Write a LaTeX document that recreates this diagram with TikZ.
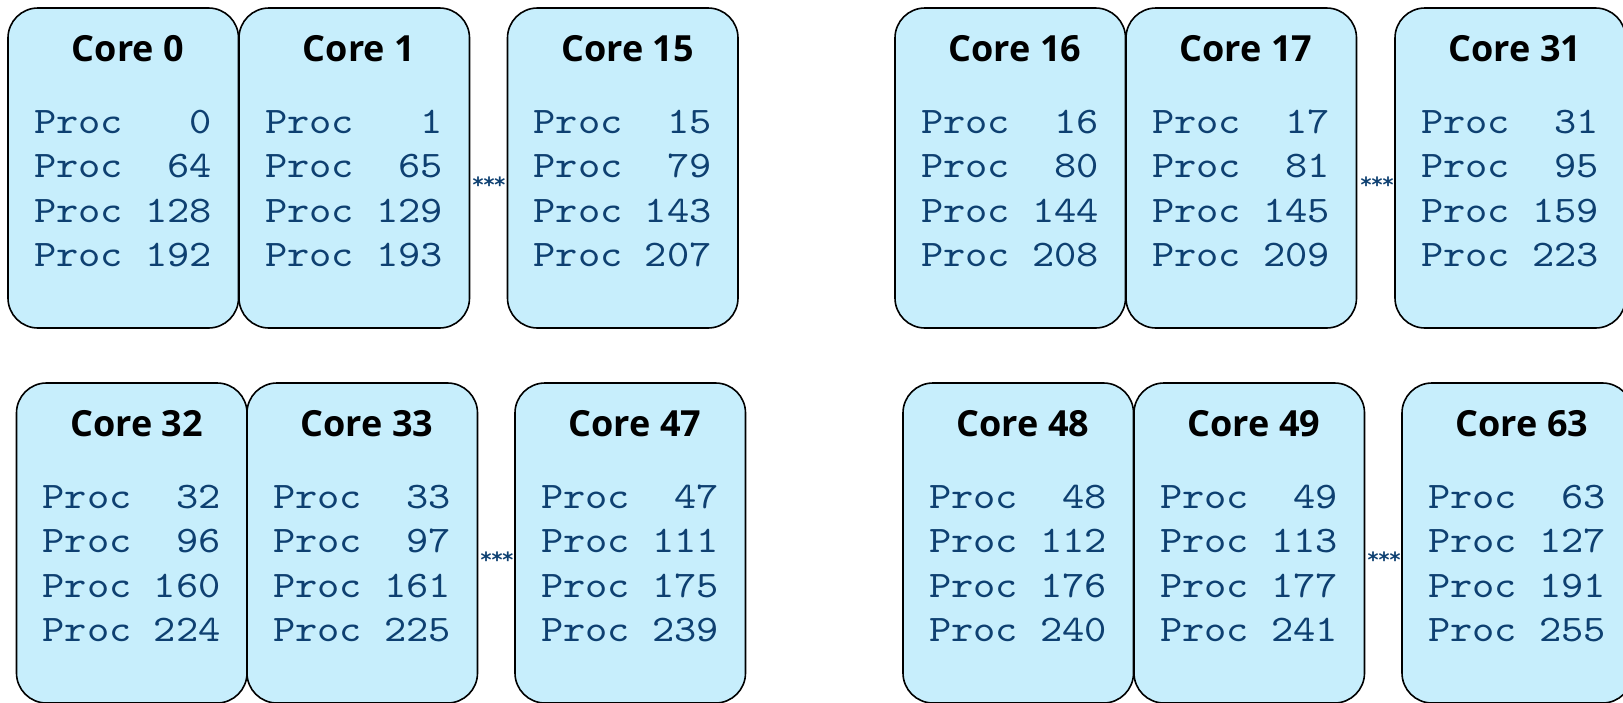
\documentclass[tikz,border=0pt]{standalone}
\usepackage{fontspec}
\newfontfamily\titlefont{Open Sans}
\newfontfamily\procfont{lmmono10-regular.otf}[FakeStretch=1.13]
\newfontfamily\symfont{DejaVu Sans}
\definecolor{corefill}{RGB}{199,238,252}
\definecolor{procblue}{RGB}{14,64,113}
\tikzset{
  corebox/.style={draw=black, line width=1.6pt, fill=corefill,
    rounded corners=30pt, minimum width=230.5pt, minimum height=320pt,
    inner sep=0pt, outer sep=0pt, anchor=north west},
  coretitle/.style={font=\titlefont\bfseries\fontsize{36}{40}\selectfont,
    anchor=base, inner sep=0pt},
  proclist/.style={font=\procfont\fontsize{37.5}{44.5}\selectfont,
    text=procblue, anchor=base west, inner sep=0pt},
  gapdots/.style={font=\symfont\bfseries\fontsize{21}{24}\selectfont,
    text=procblue, anchor=base, inner sep=0pt}
}
% one core: name, left, top, core number, four process numbers
\newcommand\corebox[8]{%
  \node[corebox] (#1) at (#2,#3) {};
  \node[coretitle] (#1t) at ({#2+120},{#3+53}) {Core #4};
  \node[proclist] (#1p) at ({#2+26},{#3+125})
    {\begin{tabular}[t]{@{}l@{\hspace{22.25pt}}r@{}}
      Proc & #5\\ Proc & #6\\ Proc & #7\\ Proc & #8
     \end{tabular}};
}
\begin{document}
\begin{tikzpicture}[x=1pt,y=-1pt]
  \useasboundingbox (0,0) rectangle (1623,702);
  \clip (0,0) rectangle (1623,702);
  % first socket, top row
  \corebox{c0}{8}{8}{0}{0}{64}{128}{192}
  \corebox{c1}{239}{8}{1}{1}{65}{129}{193}
  \corebox{c15}{507.5}{8}{15}{15}{79}{143}{207}
  \node[gapdots] (d1) at (489,192) {***};
  % second socket, top row
  \corebox{c16}{895}{8}{16}{16}{80}{144}{208}
  \corebox{c17}{1126}{8}{17}{17}{81}{145}{209}
  \corebox{c31}{1395}{8}{31}{31}{95}{159}{223}
  \node[gapdots] (d2) at (1377,192) {***};
  % third socket, bottom row
  \corebox{c32}{16.5}{383}{32}{32}{96}{160}{224}
  \corebox{c33}{247}{383}{33}{33}{97}{161}{225}
  \corebox{c47}{515}{383}{47}{47}{111}{175}{239}
  \node[gapdots] (d3) at (497,567) {***};
  % fourth socket, bottom row
  \corebox{c48}{903}{383}{48}{48}{112}{176}{240}
  \corebox{c49}{1134}{383}{49}{49}{113}{177}{241}
  \corebox{c63}{1402}{383}{63}{63}{127}{191}{255}
  \node[gapdots] (d4) at (1384,567) {***};
\end{tikzpicture}
\end{document}
